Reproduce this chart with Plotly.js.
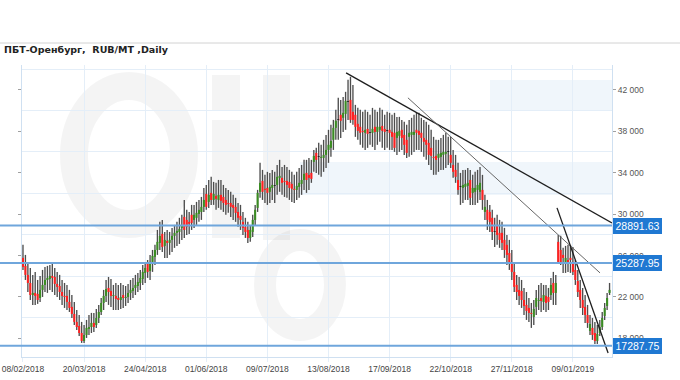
<!DOCTYPE html>
<html><head><meta charset="utf-8">
<script src="https://cdn.plot.ly/plotly-3.0.1.min.js"></script>
<style>html,body{margin:0;padding:0;background:#fff;} #chart{width:680px;height:380px;}</style>
</head><body><div id="chart"></div>
<script>
const tickLabels = ['08/02/2018','20/03/2018','24/04/2018','01/06/2018','09/07/2018','13/08/2018','17/09/2018','22/10/2018','27/11/2018','09/01/2019'];
const tickIndex = [0,25,50,75,100,125,150,175,200,225];

const openP = [25770,25000,24130,23350,22190,22390,22290,21900,22680,23160,
 23640,23740,24030,23930,23260,23060,22480,22100,22100,21520,
 21040,20360,19590,19200,18520,17750,18330,18910,19100,19490,
 19300,19970,20550,21420,22100,22870,22580,22100,22100,21900,
 21710,22190,21900,22000,22390,22580,22870,23060,23350,23740,
 24320,25190,24510,25380,25870,26540,27220,28090,26930,27410,
 27220,27510,27900,28190,28280,28670,29730,29440,29250,29930,
 29440,29640,30020,30210,30700,31950,31180,32050,31370,31760,
 31370,31860,31660,31370,31080,31080,30890,30700,30210,29830,
 29250,28770,28470,27700,28280,29440,30600,32150,33210,32440,
 32530,32150,32530,32730,32820,33500,33500,33210,33210,33110,
 32920,32440,32340,32630,32920,33300,33980,33790,33980,35040,
 35910,35530,35430,35430,35720,36200,36400,37170,38330,39100,
 39590,39300,39680,40840,41030,39880,39590,38720,38430,38040,
 37850,38230,37850,37850,38430,37940,38140,38520,38230,38040,
 38140,37940,37850,37360,37560,38140,37650,37170,37460,37650,
 37650,38140,38040,37850,37360,37170,36880,36400,35530,35620,
 35430,35530,35720,35820,36010,35720,34750,34270,33300,32630,
 32530,32630,32730,33300,32050,32150,32340,32150,32340,30210,
 30410,30210,29640,28280,28960,28190,28190,27510,27030,26250,
 25380,24420,23160,22680,22580,21710,21230,20940,20460,20070,
 21040,21610,21900,21520,22100,22000,22190,23350,22390,27320,
 26540,26060,25380,25570,25770,25380,24610,23550,22680,21710,
 21040,20260,18720,19010,18520,17750,18520,19100,20170,21130,
 22390];

const highP = [27030,26060,25290,24800,24130,24420,23640,24030,24610,24900,
 25000,25090,25380,24800,24420,24130,23640,23350,23160,22680,
 22190,21520,20740,20260,19590,19300,19780,20260,20460,20460,
 20840,21230,21900,22680,23640,23930,23740,23160,23350,23160,
 23350,23160,23060,23260,23640,23840,24130,24320,24610,25090,
 25380,25570,26060,26540,27030,28470,29250,29440,28280,28470,
 28280,28670,28960,29250,29640,29930,31370,30410,30210,30890,
 30890,31180,31370,31660,32530,32820,33300,33600,33110,33020,
 33300,33300,32820,32530,32340,32150,31860,31570,31080,30890,
 30210,29640,29250,28960,29930,30890,32340,34950,34270,33790,
 34080,33980,34270,34080,34750,35240,34560,34750,34560,34270,
 34080,33790,34080,34460,34750,35240,35240,35430,35240,36200,
 36400,36880,36690,37170,37650,38140,38620,39100,40070,41230,
 41030,41320,41810,42970,43260,42480,40550,40260,40070,39880,
 40070,39880,39590,40260,40070,39880,40260,40070,39590,39880,
 39780,39590,39780,39390,39390,39100,38910,38620,39100,39300,
 39590,39780,39780,39300,39100,38910,38620,38140,37460,37170,
 37170,37360,37650,37850,37460,37460,36200,35720,34950,33980,
 34270,34270,34460,34270,33790,34080,34270,34560,33790,31860,
 31370,30890,30410,29640,29930,29440,29250,28670,27990,27510,
 26540,25380,24130,23930,23640,22870,22480,21900,21420,21710,
 22680,23160,23350,23160,23160,22870,23840,24420,24130,27990,
 27900,26740,26930,27030,27030,26830,25570,24610,23640,22870,
 22190,21230,20260,19970,19590,19300,19780,20550,21420,22390,
 23350];

const lowP = [24610,23640,22480,21710,21230,21230,21330,21520,22000,22480,
 22390,22680,22480,22190,22000,21710,21230,20940,20740,20550,
 19970,19300,18810,18230,17560,17560,18040,18330,18520,18620,
 19010,19490,20260,20740,21520,21230,21040,20740,20740,20740,
 20840,20940,21130,21420,21710,21900,22190,22480,22680,23160,
 23350,23840,23640,24420,25090,26060,26540,26350,25770,25770,
 26060,26350,26740,26930,27120,27510,27700,27990,28090,28470,
 28670,28960,29250,29440,30210,30410,30600,30890,30890,30410,
 30600,30410,30210,29930,30120,29730,29440,29250,28770,28470,
 27990,27700,27220,27320,27800,28960,30210,31570,31370,31080,
 30890,31080,31370,31080,31860,32150,31860,31660,31570,31370,
 31180,31080,31370,31570,31860,32340,32050,32340,33020,34080,
 33980,33790,33600,34080,34460,34950,35530,36200,37170,37170,
 37360,37940,38140,39100,38810,38620,37460,37170,36690,36400,
 36200,36400,36690,36490,36200,36690,36980,36400,36200,36400,
 36200,36200,36010,35720,36010,36200,35720,35430,35530,35720,
 36010,36200,36200,36010,35530,35240,34750,34270,33790,33790,
 34080,34270,34270,34460,34750,34460,33500,33020,31860,30890,
 31080,31370,31370,30890,30890,30890,31080,31370,30410,29440,
 28470,28280,27510,26830,27030,26740,26540,25770,25090,24610,
 23640,22480,21710,21230,20940,20260,19780,19590,19010,19300,
 20260,20740,20550,20740,20550,20740,21710,21230,21230,25190,
 25090,24320,24320,24420,24320,24130,23160,22000,20940,20260,
 19490,19010,18330,17850,17460,17460,18230,18810,19780,20740,
 22190];

const closeP = [24900,24130,23350,22190,22390,22100,21710,22680,23160,23640,
 23840,24030,23840,23260,22970,22480,22100,22000,21520,20940,
 20360,19590,19100,18520,17750,18330,19010,19100,19490,19100,
 19970,20550,21420,22100,22770,22480,22100,22190,21810,21710,
 22000,21900,22000,22390,22680,22870,23160,23450,23840,24420,
 24800,24420,25380,25960,26540,27320,27900,26830,27510,27220,
 27510,27900,28190,28380,28570,28860,28470,28770,29060,29150,
 29930,30120,30410,30700,31370,30700,31860,31370,31950,31470,
 31860,31280,31080,30890,30990,30700,30600,30120,29640,29440,
 28670,28280,27700,28470,29440,30410,32050,33020,32150,32340,
 32050,32630,32820,32730,33600,33690,33020,33110,32820,32530,
 32440,32340,32730,33020,33300,33890,33300,33500,33400,35620,
 35240,35530,35530,35720,36200,36690,37070,38330,39010,39100,
 39010,39780,40940,40840,39100,39100,38430,38040,37850,37940,
 38140,37750,37850,38230,37940,38430,38430,38040,37940,38040,
 37850,37460,36400,37940,38040,37360,36690,35910,37850,37940,
 37940,37850,37650,37360,36980,36690,35720,35620,35430,35240,
 35820,35910,36010,36010,36010,34950,34080,33600,32340,32630,
 32820,32920,33020,31570,32530,32530,32820,33020,31370,30700,
 29440,29250,28280,28280,27990,27510,27220,26540,26060,25290,
 24420,22970,22480,22100,21710,21130,20650,20460,20360,20840,
 21900,21710,21610,22190,21420,21520,23160,22390,23350,25380,
 25290,25770,25770,25290,25570,24420,23640,22480,21710,20940,
 20260,19490,19390,18330,17750,18430,19100,19970,20940,21900,
 22680];

const levels = [28891.63, 25287.95, 17287.75];
const levelLabels = ['28891.63', '25287.95', '17287.75'];

const trendX = [[132.2, 241.0], [157.5, 236.1], [218.5, 239.4]];
const trendY = [[43640, 29150], [41230, 24320], [30600, 16590]];
const trendColor = ['#1e1e1e', '#666666', '#1e1e1e'];
const trendWidth = [1.3, 1, 1.3];

const upColor = '#3a8c22', downColor = '#ff2020', dojiColor = '#111111';

// built from the OHLC arrays: wicks and candle bodies as floating bars
const idx = openP.map((_, i) => i);
const wickLen = highP.map((h, i) => h - lowP[i]);
const bodyBase = openP.map((o, i) => Math.min(o, closeP[i]));
const bodyLen = openP.map((o, i) => Math.max(Math.abs(closeP[i] - o), 70));
const bodyColor = openP.map((o, i) => closeP[i] > o ? upColor : (closeP[i] < o ? downColor : dojiColor));

const traces = [
  {type: 'bar', x: idx, base: lowP, y: wickLen, width: 0.55, hoverinfo: 'skip', showlegend: false,
   marker: {color: '#4d4d4d', line: {width: 0}}},
  {type: 'bar', x: idx, base: bodyBase, y: bodyLen, width: 0.85, hoverinfo: 'skip', showlegend: false,
   marker: {color: bodyColor, line: {width: 0}}}
];
trendX.forEach((tx, k) => {
  traces.push({type: 'scatter', mode: 'lines', x: tx, y: trendY[k], hoverinfo: 'skip',
    showlegend: false, line: {color: trendColor[k], width: trendWidth[k]}});
});

const PW = 590, PH = 292, ML = 22, MT = 65;
const px = v => (v - ML) / PW;
const py = v => (MT + PH - v) / PH;

const shapes = [];
// watermark (decorative, behind data)
const wmGray = 'rgba(0,0,0,0.045)';
const wmBlue = 'rgba(90,150,215,0.09)';
shapes.push({type: 'circle', xref: 'paper', yref: 'paper', x0: px(74), x1: px(184), y0: py(224), y1: py(86), line: {color: wmGray, width: 28}, layer: 'below'});
shapes.push({type: 'rect', xref: 'paper', yref: 'paper', x0: px(212), x1: px(240), y0: py(110), y1: py(75), fillcolor: wmGray, line: {width: 0}, layer: 'below'});
shapes.push({type: 'rect', xref: 'paper', yref: 'paper', x0: px(212), x1: px(240), y0: py(238), y1: py(120), fillcolor: wmGray, line: {width: 0}, layer: 'below'});
shapes.push({type: 'rect', xref: 'paper', yref: 'paper', x0: px(263), x1: px(290), y0: py(240), y1: py(75), fillcolor: wmGray, line: {width: 0}, layer: 'below'});
shapes.push({type: 'circle', xref: 'paper', yref: 'paper', x0: px(265), x1: px(335), y0: py(330), y1: py(240), line: {color: wmGray, width: 22}, layer: 'below'});
shapes.push({type: 'rect', xref: 'paper', yref: 'paper', x0: px(300), x1: px(612), y0: py(195), y1: py(162), fillcolor: wmBlue, line: {width: 0}, layer: 'below'});
shapes.push({type: 'rect', xref: 'paper', yref: 'paper', x0: px(490), x1: px(612), y0: py(110), y1: py(80), fillcolor: wmBlue, line: {width: 0}, layer: 'below'});
// top rule
shapes.push({type: 'line', xref: 'paper', yref: 'paper', x0: px(0), x1: px(680), y0: py(43), y1: py(43), line: {color: '#d2d2d2', width: 1}});
// level lines
levels.forEach(L => shapes.push({type: 'line', xref: 'paper', x0: px(0), x1: 1, yref: 'y', y0: L, y1: L,
  line: {color: '#6fa6dc', width: 2}, layer: 'above'}));

const annotations = [
  {xref: 'paper', yref: 'paper', x: px(2), y: py(50), xanchor: 'left', yanchor: 'middle', showarrow: false,
   text: '<b>ПБТ-Оренбург,\u00a0 RUB/MT ,Daily</b>', font: {family: 'DejaVu Sans, Verdana, sans-serif', size: 9.5, color: '#222'}}
];
levels.forEach((L, k) => annotations.push({xref: 'paper', x: 1, xanchor: 'left', xshift: 1, yref: 'y', y: L,
  yanchor: 'middle', showarrow: false, text: levelLabels[k], bgcolor: '#1f78d2', borderwidth: 0, borderpad: 2,
  width: 45, height: 11.5, font: {family: 'Liberation Sans, Arial, sans-serif', size: 10.5, color: '#ffffff'}}));

const layout = {
  width: 680, height: 380,
  margin: {l: ML, r: 68, t: MT, b: 23},
  paper_bgcolor: '#ffffff', plot_bgcolor: '#ffffff',
  separators: '. ', showlegend: false, barmode: 'overlay',
  xaxis: {type: 'linear', range: [-0.4, 241], tickmode: 'array', tickvals: tickIndex, ticktext: tickLabels,
    showgrid: true, gridcolor: '#e4eef8', gridwidth: 1, zeroline: false, showline: true, linecolor: '#cfe0f1',
    ticks: 'outside', ticklen: 4, tickcolor: '#e4eef8',
    tickfont: {family: 'Liberation Sans, Arial, sans-serif', size: 8.5, color: '#444'}, fixedrange: true},
  yaxis: {side: 'right', range: [16200, 44400], tickmode: 'linear', tick0: 2000, dtick: 4000, tickformat: ',d',
    showgrid: false, zeroline: false, showline: true, mirror: 'ticks', linecolor: '#cfe0f1',
    ticks: 'outside', ticklen: 3, tickcolor: '#a0a0a0',
    tickfont: {family: 'Liberation Sans, Arial, sans-serif', size: 8.5, color: '#555'},
    minor: {tickmode: 'linear', tick0: 0, dtick: 4000, showgrid: true, gridcolor: '#e4eef8', gridwidth: 1, ticks: ''},
    fixedrange: true},
  shapes: shapes,
  annotations: annotations
};

Plotly.newPlot('chart', traces, layout, {staticPlot: true, displayModeBar: false});
</script>
</body></html>
